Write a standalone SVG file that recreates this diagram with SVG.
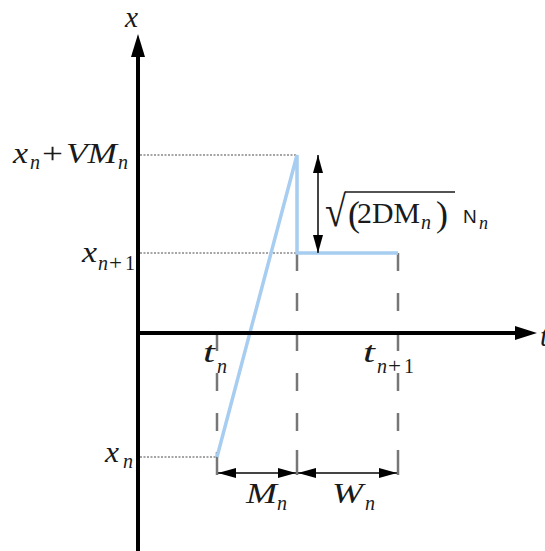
<svg xmlns="http://www.w3.org/2000/svg" width="545" height="551" viewBox="0 0 545 551">
<defs>
<style>
.m{font-family:"Liberation Serif",serif;font-style:italic;font-size:29px;fill:#1a1a1a}
.s{font-family:"Liberation Serif",serif;font-style:italic;font-size:20px;fill:#1a1a1a}
.su{font-family:"Liberation Serif",serif;font-style:normal;font-size:20px;fill:#1a1a1a}
.r{font-family:"Liberation Serif",serif;font-style:normal;font-size:29px;fill:#1a1a1a}
.axis{stroke:#000;stroke-width:4;fill:none}
.dot{stroke:#888;stroke-width:1.5;stroke-dasharray:2 1.5;fill:none}
.dash{stroke:#777;stroke-width:2.5;stroke-dasharray:18 22;fill:none}
.tick{stroke:#777;stroke-width:2.5;fill:none}
.blue{stroke:#a7cdf0;stroke-width:3.5;fill:none;stroke-linejoin:miter}
.dim{stroke:#444;stroke-width:2;fill:none}
</style>
<marker id="ah" viewBox="0 0 18 10" refX="18" refY="5" markerWidth="18" markerHeight="10" markerUnits="userSpaceOnUse" orient="auto-start-reverse">
<path d="M0,0 L18,5 L0,10 z" fill="#000"/>
</marker>
</defs>
<rect width="545" height="551" fill="#fff"/>
<g id="connectors">
<line class="dot" x1="140" y1="155" x2="297" y2="155"/>
<line class="dot" x1="140" y1="253" x2="297" y2="253"/>
<line class="dot" x1="140" y1="457" x2="217" y2="457"/>
<line class="dash" x1="297" y1="253" x2="297" y2="440"/>
<line class="dash" x1="398" y1="253" x2="398" y2="440"/>
<line class="dash" x1="217" y1="333" x2="217" y2="440"/>
<line class="tick" x1="217" y1="452" x2="217" y2="475"/>
<line class="tick" x1="297" y1="450" x2="297" y2="475"/>
<line class="tick" x1="398" y1="450" x2="398" y2="475"/>
<polyline class="blue" points="217,457 297,155 297,253 398,253"/>
<line class="dim" x1="318" y1="155" x2="318" y2="253" marker-start="url(#ah)" marker-end="url(#ah)"/>
<line class="dim" x1="218" y1="473" x2="296" y2="473" marker-start="url(#ah)" marker-end="url(#ah)"/>
<line class="dim" x1="298" y1="473" x2="397" y2="473" marker-start="url(#ah)" marker-end="url(#ah)"/>
<line class="axis" x1="138" y1="551" x2="138" y2="54"/>
<polygon points="138,34 131,57 145,57" fill="#000"/>
<line class="axis" x1="136" y1="333" x2="517" y2="333"/>
<polygon points="537,333 515,326 515,340" fill="#000"/>
</g>
<g id="label-x-axis"><text class="m" x="125" y="27" textLength="13" lengthAdjust="spacingAndGlyphs">x</text></g>
<g id="label-t-axis"><text class="m" x="540" y="346">t</text></g>
<g id="label-xn-vmn">
<text class="m" x="13" y="163" textLength="15" lengthAdjust="spacingAndGlyphs">x</text>
<text class="s" x="30" y="169">n</text>
<text class="r" x="42" y="163" textLength="21" lengthAdjust="spacingAndGlyphs">+</text>
<text class="m" x="66" y="163" textLength="51" lengthAdjust="spacingAndGlyphs">VM</text>
<text class="s" x="118" y="169">n</text>
</g>
<g id="label-xn1">
<text class="m" x="82" y="262" textLength="15" lengthAdjust="spacingAndGlyphs">x</text>
<text class="s" x="98" y="270">n</text>
<text class="su" x="109" y="270" textLength="13" lengthAdjust="spacingAndGlyphs">+</text>
<text class="su" x="125" y="270">1</text>
</g>
<g id="label-xn">
<text class="m" x="105" y="462" textLength="14" lengthAdjust="spacingAndGlyphs">x</text>
<text class="s" x="123" y="468">n</text>
</g>
<g id="label-tn">
<text class="m" x="203" y="362" textLength="12" lengthAdjust="spacingAndGlyphs">t</text>
<text class="s" x="217" y="373">n</text>
</g>
<g id="label-tn1">
<text class="m" x="363" y="362" textLength="12" lengthAdjust="spacingAndGlyphs">t</text>
<text class="s" x="377" y="373">n</text>
<text class="su" x="388" y="373" textLength="13" lengthAdjust="spacingAndGlyphs">+</text>
<text class="su" x="404" y="373">1</text>
</g>
<g id="label-mn">
<text class="m" x="246" y="503" textLength="31" lengthAdjust="spacingAndGlyphs">M</text>
<text class="s" x="277" y="510">n</text>
</g>
<g id="label-wn">
<text class="m" x="332" y="503" textLength="31" lengthAdjust="spacingAndGlyphs">W</text>
<text class="s" x="365" y="510">n</text>
</g>
<g id="label-sqrt">
<text class="r" x="325" y="226" style="font-size:44px" textLength="21" lengthAdjust="spacingAndGlyphs">√</text>
<line x1="345" y1="192" x2="455" y2="192" stroke="#1a1a1a" stroke-width="1.5"/>
<text class="r" x="348" y="226" style="font-size:36px">(</text>
<text class="r" x="357" y="223" textLength="63" lengthAdjust="spacingAndGlyphs">2DM</text>
<text class="s" x="421" y="229">n</text>
<text class="r" x="436" y="226" style="font-size:36px">)</text>
<text x="463" y="223" style="font-family:'Liberation Sans',sans-serif;font-size:19px;fill:#1a1a1a">N</text>
<text class="s" x="479" y="229" style="font-size:18px">n</text>
</g>
</svg>
